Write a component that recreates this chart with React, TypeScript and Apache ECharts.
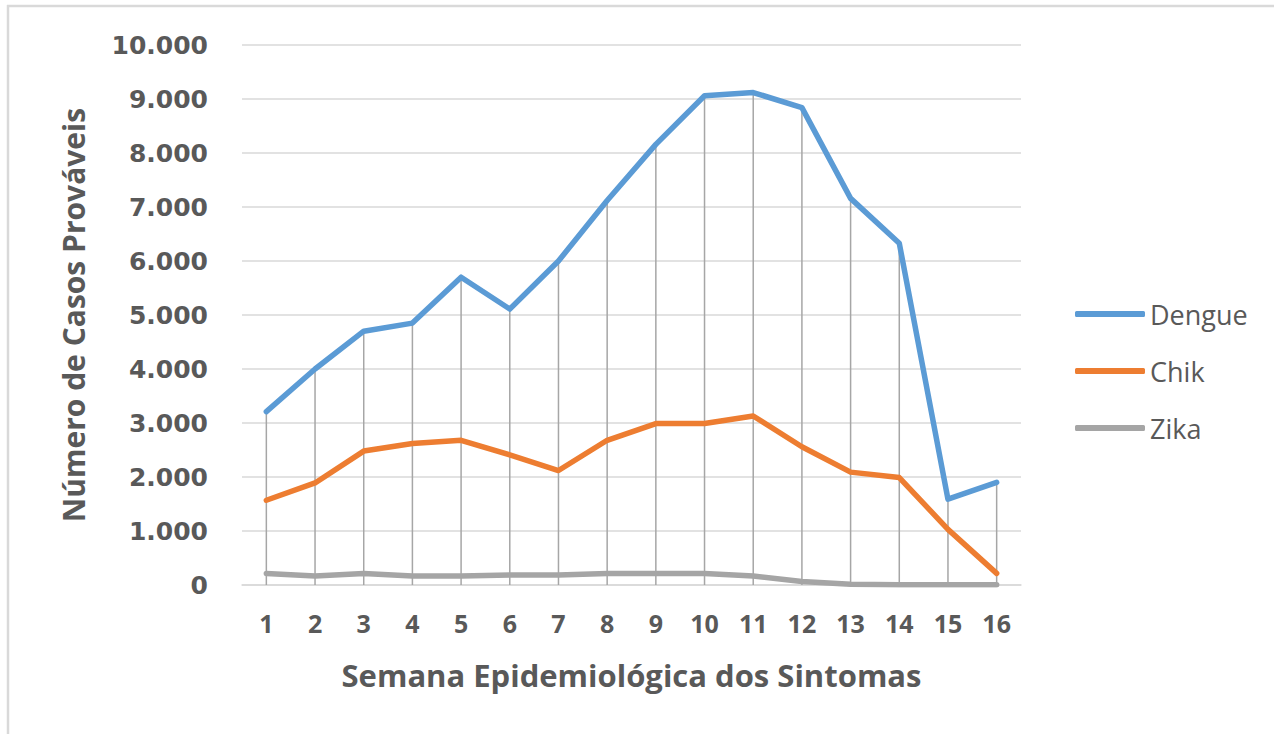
import React, { useEffect, useRef } from "react";
import * as echarts from "echarts";

const weeks = ["1", "2", "3", "4", "5", "6", "7", "8", "9", "10", "11", "12", "13", "14", "15", "16"];
const dengue = [3210, 4000, 4700, 4850, 5700, 5110, 6000, 7120, 8160, 9060, 9120, 8840, 7160, 6330, 1590, 1900];
const chik = [1570, 1890, 2480, 2620, 2680, 2410, 2120, 2680, 2990, 2990, 3130, 2560, 2090, 1990, 1030, 215];
const zika = [215, 165, 215, 165, 165, 185, 185, 215, 215, 215, 165, 65, 12, 5, 5, 5];
const yTicks = { min: 0, max: 10000, interval: 1000 };

const fmt = (v: number) => String(v).replace(/\B(?=(\d{3})+(?!\d))/g, ".");

export default function App() {
  const ref = useRef<HTMLDivElement>(null);
  useEffect(() => {
    if (!ref.current) return;
    const chart = echarts.init(ref.current, null, { renderer: "svg" });
    const dropData = weeks.map((_, i) => [i, Math.max(dengue[i], chik[i], zika[i])]);
    chart.setOption({
      animation: false,
      backgroundColor: "#ffffff",
      graphic: [
        { type: "line", shape: { x1: 7, y1: 6, x2: 1274, y2: 6 }, style: { stroke: "#d9d9d9", lineWidth: 2.5 } },
        { type: "line", shape: { x1: 8, y1: 5, x2: 8, y2: 734 }, style: { stroke: "#d9d9d9", lineWidth: 2.5 } },
      ],
      grid: { left: 242, right: 253, top: 45, bottom: 149 },
      legend: {
        orient: "vertical",
        left: 1070,
        top: 294,
        itemWidth: 70,
        itemHeight: 6,
        itemGap: 27,
        icon: "roundRect",
        data: ["Dengue", "Chik", "Zika"],
        textStyle: { fontFamily: "Open Sans", fontSize: 27, color: "#595959", lineHeight: 30 },
      },
      xAxis: {
        type: "category",
        data: weeks,
        boundaryGap: true,
        name: "Semana Epidemiológica dos Sintomas",
        nameLocation: "middle",
        nameGap: 74,
        nameTextStyle: { fontFamily: "Open Sans", fontWeight: "bold", fontSize: 31, color: "#595959" },
        axisLine: { show: true, lineStyle: { color: "#d9d9d9", width: 1.5 } },
        axisTick: { show: false },
        axisLabel: { margin: 25, fontFamily: "Open Sans", fontWeight: "bold", fontSize: 25, color: "#595959" },
        splitLine: { show: false },
      },
      yAxis: {
        type: "value",
        min: yTicks.min,
        max: yTicks.max,
        interval: yTicks.interval,
        name: "Número de Casos Prováveis",
        nameLocation: "middle",
        nameRotate: 90,
        nameGap: 154,
        nameTextStyle: { fontFamily: "Open Sans", fontWeight: "bold", fontSize: 30, color: "#595959" },
        axisLine: { show: false },
        axisTick: { show: false },
        axisLabel: {
          margin: 34,
          fontFamily: "DejaVu Sans",
          fontWeight: "bold",
          fontSize: 25,
          color: "#595959",
          formatter: (v: number) => fmt(v),
        },
        splitLine: { lineStyle: { color: "#d9d9d9", width: 1.5 } },
      },
      series: [
        {
          type: "custom",
          name: "drop",
          data: dropData,
          encode: { x: 0, y: 1 },
          z: 1,
          silent: true,
          renderItem: (params: any, api: any) => {
            const idx = api.value(0);
            const top = api.coord([idx, api.value(1)]);
            const bottom = api.coord([idx, 0]);
            return {
              type: "line",
              shape: { x1: top[0], y1: top[1], x2: bottom[0], y2: bottom[1] },
              style: { stroke: "#a6a6a6", lineWidth: 1.5 },
            };
          },
        },
        {
          type: "line",
          name: "Dengue",
          data: dengue,
          showSymbol: false,
          z: 4,
          itemStyle: { color: "#5b9bd5" },
          lineStyle: { color: "#5b9bd5", width: 5.5, cap: "round", join: "round" },
        },
        {
          type: "line",
          name: "Chik",
          data: chik,
          showSymbol: false,
          z: 3,
          itemStyle: { color: "#ed7d31" },
          lineStyle: { color: "#ed7d31", width: 5.5, cap: "round", join: "round" },
        },
        {
          type: "line",
          name: "Zika",
          data: zika,
          showSymbol: false,
          z: 2,
          itemStyle: { color: "#a5a5a5" },
          lineStyle: { color: "#a5a5a5", width: 5.5, cap: "round", join: "round" },
        },
      ],
    });
    return () => chart.dispose();
  }, []);
  return (
    <div
      ref={ref}
      style={{ position: "absolute", left: 0, top: 0, width: 1274, height: 734 }}
    />
  );
}
